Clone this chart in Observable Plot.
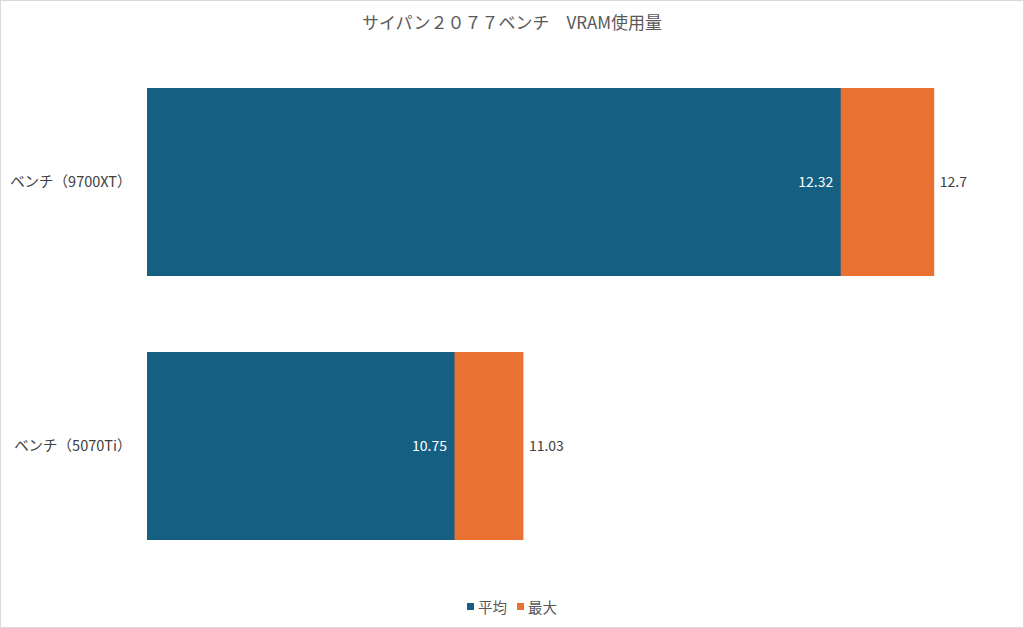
<!DOCTYPE html>
<html>
<head>
<meta charset="utf-8">
<script src="https://cdn.jsdelivr.net/npm/d3@7"></script>
<script src="https://cdn.jsdelivr.net/npm/@observablehq/plot@0.6"></script>
<style>
  html, body { margin: 0; padding: 0; background: #fff; }
  #chart {
    position: relative; width: 1024px; height: 628px; box-sizing: border-box;
    outline: 1px solid #d9d9d9; outline-offset: -1px;
    font-family: "Noto Sans CJK JP", "Noto Sans", sans-serif; overflow: hidden;
  }
  #title { height: 44px; line-height: 44px; text-align: center; font-size: 17px; color: #595959; }
  #legend { height: 44px; display: flex; justify-content: center; align-items: center; gap: 10px; font-size: 14.5px; color: #595959; }
  .item { display: flex; align-items: center; gap: 4px; }
  .sw { width: 7px; height: 7px; display: inline-block; }
  svg { display: block; }
</style>
</head>
<body>
<div id="chart">
  <div id="title">サイパン２０７７ベンチ　VRAM使用量</div>
  <div id="plot"></div>
  <div id="legend"></div>
</div>
<script>
const categories = ["ベンチ（9700XT）", "ベンチ（5070Ti）"];
const avgValues = [12.32, 10.75];
const maxValues = [12.7, 11.03];
const seriesNames = ["平均", "最大"];
const seriesColors = ["#156082", "#E97132"];
const xDomain = [9.5, 13];

const rows = categories.map((c, i) => ({cat: c, avg: avgValues[i], max: maxValues[i]}));

const chart = Plot.plot({
  width: 1024,
  height: 540,
  marginTop: 6,
  marginBottom: 6,
  marginLeft: 147,
  marginRight: 16,
  style: {fontFamily: '"Noto Sans CJK JP", "Noto Sans", sans-serif', fontSize: "14px", color: "#404040", background: "white"},
  x: {domain: xDomain, axis: null},
  y: {domain: categories, paddingInner: 0.288, paddingOuter: 0.144, label: null},
  marks: [
    Plot.barX(rows, {y: "cat", x: "max", fill: seriesColors[1], clip: true}),
    Plot.barX(rows, {y: "cat", x: "avg", fill: seriesColors[0], clip: true}),
    Plot.text(rows, {y: "cat", x: "avg", text: d => String(d.avg), textAnchor: "end", dx: -8, fill: "white", fontSize: 14}),
    Plot.text(rows, {y: "cat", x: "max", text: d => String(d.max), textAnchor: "start", dx: 5, fill: "#404040", fontSize: 14}),
    Plot.axisY({tickSize: 0, tickPadding: 16, fontSize: 14.5, fill: "#404040", label: null})
  ]
});
document.getElementById("plot").appendChild(chart);

const legend = document.getElementById("legend");
seriesNames.forEach((n, i) => {
  const it = document.createElement("div");
  it.className = "item";
  it.innerHTML = `<span class="sw" style="background:${seriesColors[i]}"></span><span>${n}</span>`;
  legend.appendChild(it);
});
</script>
</body>
</html>
